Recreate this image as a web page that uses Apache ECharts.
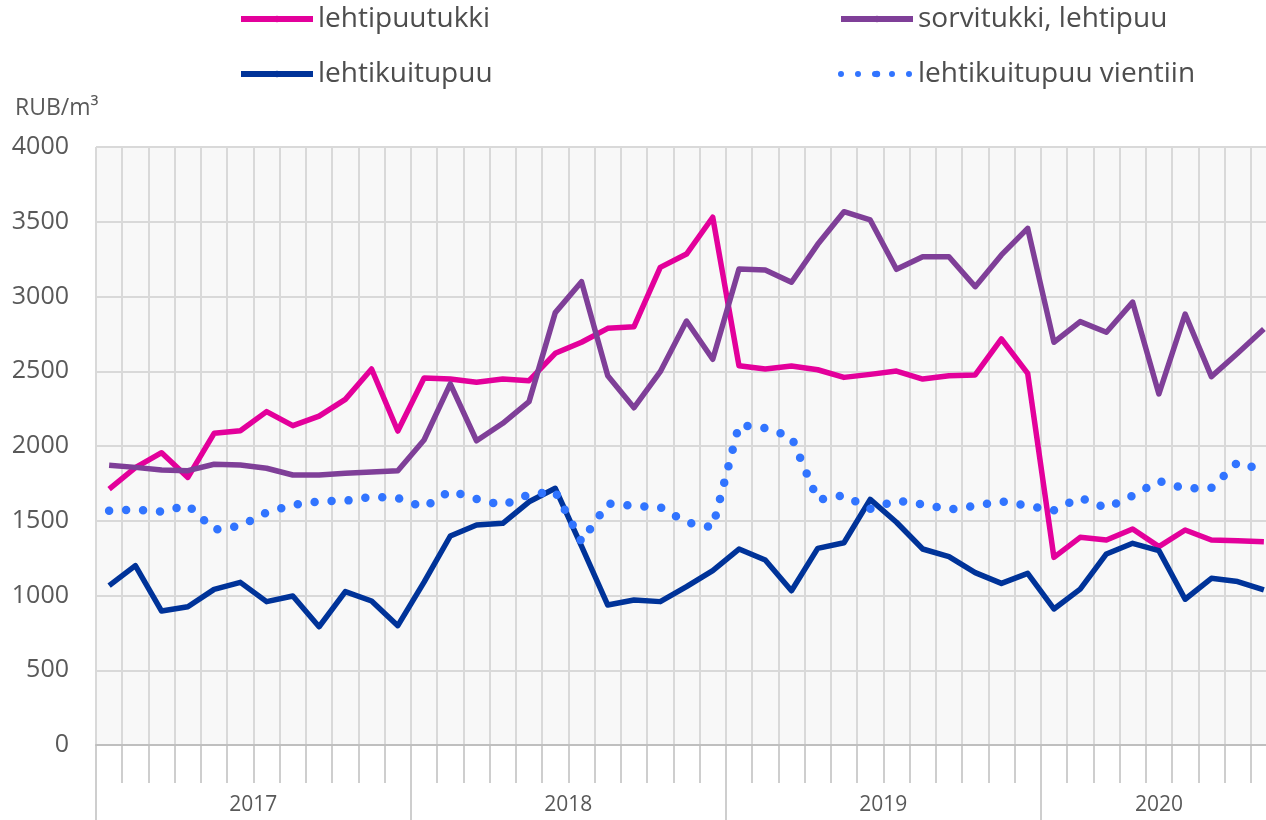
<!DOCTYPE html>
<html>
<head>
<meta charset="utf-8">
<script src="https://cdn.jsdelivr.net/npm/echarts@6/dist/echarts.min.js"></script>
<style>
  html, body { margin: 0; padding: 0; background: #fff; overflow: hidden; }
  /* kuvaaja jatkuu hieman ikkunan oikean reunan yli, kuten alkuperäisessä */
  #chart { width: 1277px; height: 820px; }
</style>
</head>
<body>
<div id="chart"></div>
<script>
// vuodet ja kuukausien määrä (2020 vain syyskuuhun asti)
var years = ['2017', '2018', '2019', '2020'];
var monthsPerYear = [12, 12, 12, 9];

// RUB/m3 kuukausittain
var lehtipuutukki = [
  1712, 1855, 1955, 1790, 2085, 2102, 2230, 2136, 2200, 2312, 2515, 2100,
  2455, 2448, 2426, 2448, 2437, 2620, 2694, 2787, 2798, 3195, 3284, 3530,
  2537, 2515, 2535, 2510, 2459, 2479, 2501, 2448, 2470, 2475, 2716, 2486,
  1255, 1389, 1371, 1445, 1327, 1438, 1371, 1367, 1360
];
var sorvitukki = [
  1871, 1857, 1839, 1835, 1878, 1873, 1851, 1806, 1806, 1817, 1826, 1835,
  2040, 2415, 2035, 2152, 2297, 2892, 3099, 2470, 2256, 2497, 2836, 2580,
  3184, 3177, 3095, 3349, 3567, 3512, 3182, 3266, 3266, 3066, 3278, 3456,
  2694, 2832, 2761, 2962, 2348, 2883, 2464, 2620, 2783
];
var lehtikuitupuu = [
  1066, 1200, 896, 925, 1041, 1088, 959, 997, 791, 1026, 963, 798,
  1090, 1398, 1472, 1483, 1627, 1717, 1330, 936, 970, 959, 1059, 1166,
  1311, 1237, 1032, 1315, 1353, 1643, 1490, 1311, 1260, 1153, 1081, 1148,
  910, 1043, 1278, 1349, 1300, 975, 1115, 1093, 1037
];
var vientiin = [
  1567, 1575, 1561, 1605, 1440, 1465, 1556, 1605, 1630, 1633, 1660, 1652,
  1590, 1700, 1645, 1605, 1675, 1695, 1360, 1615, 1600, 1590, 1490, 1456,
  2140, 2120, 2060, 1640, 1670, 1580, 1635, 1610, 1575, 1600, 1630, 1600,
  1570, 1655, 1585, 1668, 1765, 1715, 1720, 1890, 1835
];

var yMin = 0, yMax = 4000, yStep = 500;

// kategoriat ja vuosien keskikohdat
var months = [];
var yearStart = [];
var yearLabelAt = {};
years.forEach(function (y, k) {
  var n = monthsPerYear[k];
  yearStart.push(months.length);
  var mid = n % 2 === 0 ? months.length + n / 2 - 1 : months.length + (n - 1) / 2;
  yearLabelAt[mid] = n % 2 === 0 ? 'shift' : 'plain';
  for (var m = 1; m <= n; m++) {
    months.push(y + '-' + (m < 10 ? '0' + m : m));
  }
});

var font = 'Open Sans';
var grey = '#595959';

var myChart = echarts.init(document.getElementById('chart'));
var legendBase = {
  top: 4, orient: 'vertical', padding: 0,
  itemWidth: 72, itemHeight: 8, itemGap: 25,
  lineStyle: { width: 6 },
  textStyle: { fontFamily: font, fontSize: 28, lineHeight: 30, color: '#4d4d4d' }
};
var option = {
  animation: false,
  backgroundColor: '#fff',
  title: {
    text: 'RUB/m³',
    left: 10,
    top: 92,
    textStyle: { fontFamily: font, fontSize: 23, fontWeight: 'normal', color: grey }
  },
  legend: [
    echarts.util.merge({ left: 238, data: ['lehtipuutukki', 'lehtikuitupuu'] }, legendBase),
    echarts.util.merge({ left: 838, data: ['sorvitukki, lehtipuu', 'lehtikuitupuu vientiin'] }, legendBase)
  ],
  grid: {
    left: 96, top: 147, bottom: 75, right: 0,
    show: true, backgroundColor: '#f8f8f8', borderWidth: 0
  },
  xAxis: [
    {
      type: 'category',
      data: months,
      boundaryGap: true,
      axisLine: { show: true, lineStyle: { color: '#bfbfbf', width: 2 } },
      axisTick: { show: true, length: 38, interval: 0, lineStyle: { color: '#bfbfbf', width: 1.5 } },
      axisLabel: { show: false },
      splitLine: { show: true, interval: 0, lineStyle: { color: '#d9d9d9', width: 2 } }
    },
    {
      type: 'category',
      data: months,
      position: 'bottom',
      boundaryGap: true,
      axisLine: { show: false },
      axisTick: {
        show: true,
        length: 75,
        interval: function (idx) { return yearStart.indexOf(idx) >= 0; },
        lineStyle: { color: '#bfbfbf', width: 1.5 }
      },
      axisLabel: {
        margin: 50,
        interval: function (idx) { return yearLabelAt[idx] !== undefined; },
        fontFamily: font, fontSize: 21, color: grey,
        formatter: function (v, idx) {
          var y = v.slice(0, 4);
          return yearLabelAt[idx] === 'shift' ? '{p|' + y + '}' : '{n|' + y + '}';
        },
        rich: {
          p: { fontFamily: font, fontSize: 21, color: grey, padding: [0, 0, 0, 26] },
          n: { fontFamily: font, fontSize: 21, color: grey }
        }
      },
      splitLine: { show: false }
    }
  ],
  yAxis: {
    type: 'value',
    min: yMin, max: yMax, interval: yStep,
    axisLine: { show: false },
    axisTick: { show: false },
    axisLabel: {
      margin: 27, fontFamily: font, fontSize: 25, color: grey,
      formatter: function (v) { return String(v); }
    },
    splitLine: { lineStyle: { color: '#d9d9d9', width: 2 } }
  },
  series: [
    {
      name: 'lehtipuutukki', type: 'line', data: lehtipuutukki,
      symbol: 'none', lineStyle: { color: '#e3009b', width: 5.5, join: 'round' },
      itemStyle: { color: '#e3009b' }
    },
    {
      name: 'sorvitukki, lehtipuu', type: 'line', data: sorvitukki,
      symbol: 'none', lineStyle: { color: '#7f3f98', width: 5.5, join: 'round' },
      itemStyle: { color: '#7f3f98' }
    },
    {
      name: 'lehtikuitupuu', type: 'line', data: lehtikuitupuu,
      symbol: 'none', lineStyle: { color: '#003399', width: 5.5, join: 'round' },
      itemStyle: { color: '#003399' }
    },
    {
      name: 'lehtikuitupuu vientiin', type: 'line', data: vientiin,
      symbol: 'none',
      lineStyle: { color: '#3174ff', width: 8.5, type: [0, 17], cap: 'round' },
      itemStyle: { color: '#3174ff' }
    }
  ]
};
myChart.setOption(option);
</script>
</body>
</html>
